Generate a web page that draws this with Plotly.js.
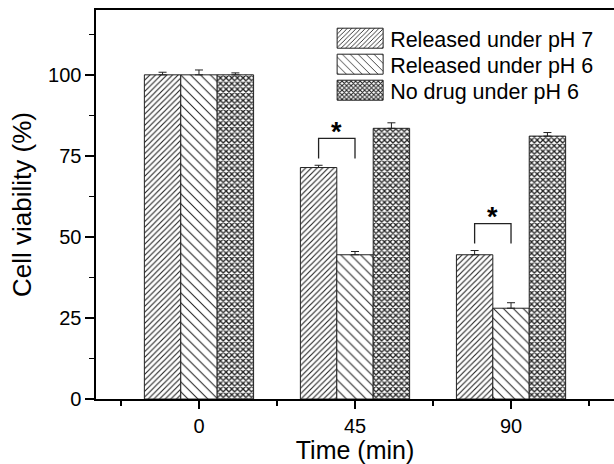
<!DOCTYPE html>
<html>
<head>
<meta charset="utf-8">
<script src="https://cdn.plot.ly/plotly-3.0.1.min.js"></script>
<style>html,body{margin:0;padding:0;background:#fff;}#chart{width:614px;height:464px;}</style>
</head>
<body>
<div id="chart"></div>
<script>
// ---- data ----
var timeLabels = ['0', '45', '90'];
var seriesNames = ['Released under pH 7', 'Released under pH 6', 'No drug under pH 6'];
var pH7Values = [100, 71.4, 44.5];
var pH7Errors = [0.8, 0.7, 1.3];
var pH6Values = [100, 44.5, 28.0];
var pH6Errors = [1.5, 1.0, 1.7];
var noDrugValues = [100, 83.5, 81.1];
var noDrugErrors = [0.6, 1.7, 1.1];
// significance brackets: group index, top of bracket, leg bottom, star level
var sigGroups = [1, 2];
var sigTop = [80.4, 54.1];
var sigLegBottom = [74.2, 48.0];
var sigStar = [77.0, 50.8];

var FONT = 'Arial, "Liberation Sans", sans-serif';
var INK = '#222';
var xPos = timeLabels.map(function (_, i) { return i; });
var zeros = [0, 0, 0];
var bargap = 0.3;
var barW = (1 - bargap) / 3;

function barTrace(name, vals, errs, shape, size, solidity) {
  return {
    type: 'bar', name: name, x: xPos, y: vals,
    marker: {
      color: '#fff',
      line: { color: INK, width: 1 },
      pattern: { shape: shape, size: size, solidity: solidity, fgcolor: INK, bgcolor: '#fff', fillmode: 'replace' }
    },
    error_y: { type: 'data', symmetric: false, array: errs, arrayminus: zeros, color: INK, thickness: 1, width: 4 }
  };
}

var data = [
  barTrace(seriesNames[0], pH7Values, pH7Errors, '/', 4, 0.28),
  barTrace(seriesNames[1], pH6Values, pH6Errors, '\\', 7, 0.15),
  barTrace(seriesNames[2], noDrugValues, noDrugErrors, 'x', 4, 0.55)
];

var shapes = [], annotations = [];
sigGroups.forEach(function (g, k) {
  var x1 = g - barW, x2 = g;
  shapes.push({
    type: 'path', xref: 'x', yref: 'y',
    path: 'M' + x1 + ',' + sigLegBottom[k] + ' L' + x1 + ',' + sigTop[k] + ' L' + x2 + ',' + sigTop[k] + ' L' + x2 + ',' + sigLegBottom[k],
    line: { color: INK, width: 1.3 }
  });
  annotations.push({
    x: (x1 + x2) / 2, y: sigStar[k], xref: 'x', yref: 'y', text: '<b>*</b>',
    showarrow: false, yanchor: 'bottom', font: { family: FONT, size: 27, color: '#000' }
  });
});

var layout = {
  width: 614, height: 464,
  margin: { l: 96, r: 0, t: 10, b: 65 },
  paper_bgcolor: '#fff', plot_bgcolor: '#fff',
  font: { family: FONT, color: '#000', size: 20 },
  barmode: 'group', bargap: bargap, bargroupgap: 0,
  showlegend: true,
  legend: {
    x: 0.452, xanchor: 'left', y: 0.975, yanchor: 'top',
    bgcolor: 'rgba(0,0,0,0)', borderwidth: 0,
    font: { family: FONT, size: 21.5, color: '#000' },
    itemwidth: 50, tracegroupgap: 0, traceorder: 'normal'
  },
  xaxis: {
    type: 'linear', range: [-0.66, 2.66],
    tickmode: 'array', tickvals: xPos, ticktext: timeLabels,
    ticks: 'outside', ticklen: 8, tickwidth: 1.5, tickcolor: '#000',
    showline: true, linewidth: 1.6, linecolor: '#000', mirror: true,
    showgrid: false, zeroline: false,
    tickfont: { family: FONT, size: 20, color: '#000' },
    minor: { tickmode: 'array', tickvals: [-0.5, 0.5, 1.5, 2.5], ticks: 'outside', ticklen: 5, tickwidth: 1.5, tickcolor: '#000', showgrid: false },
    title: { text: 'Time (min)', font: { family: FONT, size: 25, color: '#000' }, standoff: 3 }
  },
  yaxis: {
    range: [0, 120], tick0: 0, dtick: 25,
    ticks: 'outside', ticklen: 9, tickwidth: 1.5, tickcolor: '#000',
    showline: true, linewidth: 1.6, linecolor: '#000',
    showgrid: false, zeroline: false,
    tickfont: { family: FONT, size: 20, color: '#000' },
    minor: { tick0: 12.5, dtick: 25, ticks: 'outside', ticklen: 5, tickwidth: 1.5, tickcolor: '#000', showgrid: false },
    title: { text: 'Cell viability (%)', font: { family: FONT, size: 26, color: '#000' }, standoff: 9 }
  },
  shapes: shapes,
  annotations: annotations
};

Plotly.newPlot('chart', data, layout, { staticPlot: true, displayModeBar: false }).then(function () {
  // enlarge legend swatches to wide rectangles like the original
  document.querySelectorAll('.legend .legendpoints path').forEach(function (p) {
    p.setAttribute('d', 'M23,10H-23V-10H23Z');
  });
  // tighten the legend row spacing to match the original
  var items = document.querySelectorAll('.legend .traces');
  var y0 = null;
  items.forEach(function (g, i) {
    var m = /translate\(\s*([-\d.]+)[ ,]+([-\d.]+)\s*\)/.exec(g.getAttribute('transform') || '');
    if (!m) return;
    if (y0 === null) y0 = parseFloat(m[2]) - 2;
    g.setAttribute('transform', 'translate(' + m[1] + ',' + (y0 + 26 * i) + ')');
  });
});
</script>
</body>
</html>
